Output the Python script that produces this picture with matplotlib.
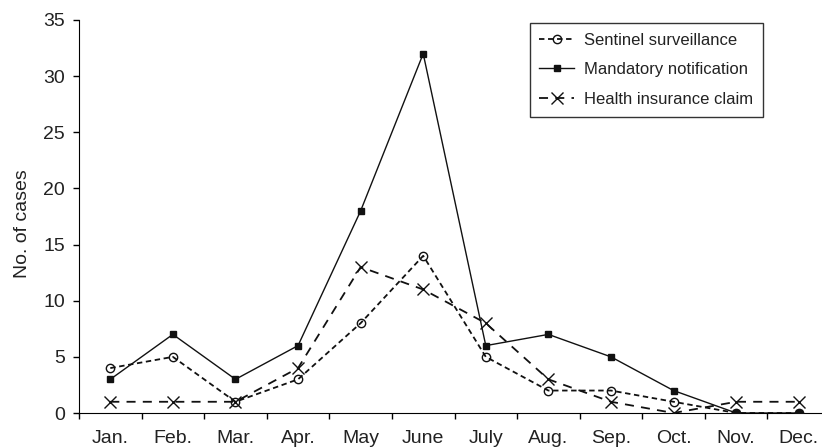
import matplotlib
matplotlib.use("Agg")
import matplotlib.pyplot as plt
import numpy as np

plt.rcParams['font.family'] = ['Liberation Sans', 'DejaVu Sans']

months = ["Jan.", "Feb.", "Mar.", "Apr.", "May", "June", "July", "Aug.", "Sep.", "Oct.", "Nov.", "Dec."]
sentinel = [4, 5, 1, 3, 8, 14, 5, 2, 2, 1, 0, 0]
mandatory = [3, 7, 3, 6, 18, 32, 6, 7, 5, 2, 0, 0]
insurance = [1, 1, 1, 4, 13, 11, 8, 3, 1, 0, 1, 1]

fig = plt.figure(figsize=(8.22, 4.48), dpi=100)
ax = fig.add_axes([79/822, (448-413)/448, (830-79)/822, (413-20)/448])

x = np.arange(len(months))
ax.plot(x, mandatory, color='#111111', lw=1.0, marker='s', ms=5, mfc='#111111', mec='#111111',
        label='Mandatory notification', zorder=3)
ax.plot(x, sentinel, color='#111111', lw=1.3, ls=(0, (3, 2)), marker='o', ms=6, mfc='none',
        mec='#111111', mew=1.0, label='Sentinel surveillance', zorder=4)
ax.plot(x, insurance, color='#111111', lw=1.3, ls=(0, (5, 4)), marker='x', ms=8, mew=1.0,
        label='Health insurance claim', zorder=3)

ax.set_xlim(-0.5, 11.5)
ax.set_ylim(0, 35)
ax.set_yticks(range(0, 36, 5))
ax.set_xticks(np.arange(-0.5, 12, 1))
ax.set_xticklabels([])
ax.set_xticks(x, minor=True)
ax.set_xticklabels(months, minor=True)
ax.tick_params(axis='x', which='minor', length=0, pad=12.5, labelsize=14, labelcolor='#222222')
ax.tick_params(axis='x', which='major', length=4.5, direction='out', width=1)
ax.tick_params(axis='y', length=4.5, direction='out', labelsize=14, width=1, pad=5.5,
               labelcolor='#222222')
ax.spines['top'].set_visible(False)
ax.spines['right'].set_visible(False)
ax.set_ylabel('No. of cases', fontsize=14, color='#222222')
ax.yaxis.set_label_coords(31/822, 0.5, transform=fig.transFigure)

handles, labels = ax.get_legend_handles_labels()
order = [1, 0, 2]
leg = ax.legend([handles[i] for i in order], [labels[i] for i in order],
                loc='upper right', bbox_to_anchor=(763/822, (448-23)/448),
                bbox_transform=fig.transFigure, fontsize=12, frameon=True, fancybox=False,
                edgecolor='black', handlelength=2.1, handletextpad=0.6, borderpad=0.58,
                labelspacing=0.88, borderaxespad=0)
leg.get_frame().set_linewidth(1.0)
for t in leg.get_texts():
    t.set_color('#222222')

fig.savefig('out.png', dpi=100)
